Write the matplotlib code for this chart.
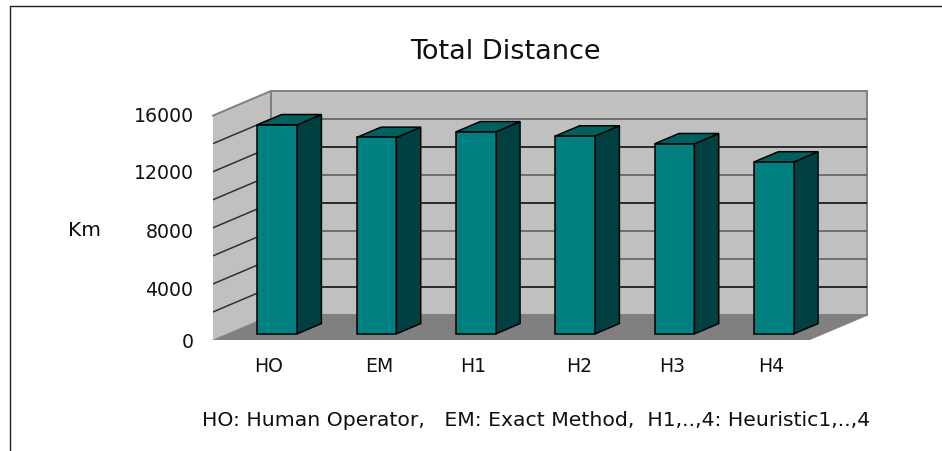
import matplotlib
matplotlib.use("Agg")
import matplotlib.pyplot as plt
from matplotlib.patches import Polygon
from matplotlib.lines import Line2D
from matplotlib.transforms import ScaledTranslation

categories = ["HO", "EM", "H1", "H2", "H3", "H4"]
distance = [14900, 14000, 14400, 14100, 13550, 12250]
y_ticks = [0, 4000, 8000, 12000, 16000]
grid_values = [2000, 4000, 6000, 8000, 10000, 12000, 14000]

plt.rcParams["font.family"] = ["DejaVu Sans"]

# 3d look: how far the back wall is shifted from the front plane
depth_x = 58 / 99.33
depth_y = 1750
bar_width = 0.4
bar_front = 0.25
bar_back = 0.67

fig = plt.figure(figsize=(9.42, 4.51), dpi=100)
ax = fig.add_axes([213 / 942, 111 / 451, 654 / 942, 249 / 451])
ax.set_xlim(0, 6 + depth_x)
ax.set_ylim(0, 16000 + depth_y)
for s in ax.spines.values():
    s.set_visible(False)

# walls and floor
ax.add_patch(Polygon([(depth_x, depth_y), (6 + depth_x, depth_y), (6 + depth_x, 16000 + depth_y), (depth_x, 16000 + depth_y)],
                     fc="#c0c0c0", ec="#808080", lw=1.4, zorder=1, clip_on=False))
ax.add_patch(Polygon([(0, 0), (depth_x, depth_y), (depth_x, 16000 + depth_y), (0, 16000)],
                     fc="#c0c0c0", ec="none", zorder=1, clip_on=False))
ax.plot([0, depth_x, depth_x], [16000, 16000 + depth_y, depth_y], color="#808080", lw=1.4, zorder=1.2, clip_on=False)
ax.add_patch(Polygon([(0, 0), (6, 0), (6 + depth_x, depth_y), (depth_x, depth_y)],
                     fc="#808080", ec="#808080", lw=0.5, zorder=2))

# grid lines, some come out darker in the scan
for g in grid_values:
    col = "#101010" if g in (2000, 8000, 12000) else "#606060"
    ax.plot([depth_x, 6 + depth_x], [g + depth_y, g + depth_y], color=col, lw=1.2, zorder=1.5)
    ax.plot([0, depth_x], [g, g + depth_y], color="#303030", lw=1.1, zorder=1.5)

# bars
for i, v in enumerate(distance):
    x0 = i + 0.5 - bar_width / 2 + bar_front * depth_x
    x1 = x0 + bar_width
    y0 = bar_front * depth_y
    d = (bar_back - bar_front)
    dx = d * depth_x
    dy = d * depth_y
    top = y0 + v
    ax.add_patch(Polygon([(x1, y0), (x1 + dx, y0 + dy), (x1 + dx, top + dy), (x1, top)],
                         fc="#004040", ec="black", lw=1.1, zorder=3))
    ax.add_patch(Polygon([(x0, top), (x1, top), (x1 + dx, top + dy), (x0 + dx, top + dy)],
                         fc="#006060", ec="black", lw=1.1, zorder=3))
    ax.add_patch(Polygon([(x0, y0), (x1, y0), (x1, top), (x0, top)],
                         fc="#008080", ec="black", lw=1.1, zorder=4))

# ticks
ax.tick_params(length=0, labelsize=13.6, colors="#101010")
ax.set_yticks(y_ticks)
ax.set_xticks([i + 0.5 for i in range(6)])
ax.set_xticklabels(categories)
ax.tick_params(axis="y", pad=14)
ax.tick_params(axis="x", pad=12)

# labels in the original are not quite where the ticks are
y_nudge = [0, -5, -3, 0, 1]
x_nudge = [6.3, 17, 11.6, 18.3, 12, 11.6]
for lab, n in zip(ax.get_yticklabels(), y_nudge):
    lab.set_transform(lab.get_transform() + ScaledTranslation(0, n / 100, fig.dpi_scale_trans))
for lab, n in zip(ax.get_xticklabels(), x_nudge):
    lab.set_transform(lab.get_transform() + ScaledTranslation(n / 100, 0, fig.dpi_scale_trans))

fig.text(505 / 942, 1 - 52 / 451, "Total Distance", ha="center", va="center", fontsize=19.5, color="#101010")
fig.text(85 / 942, 1 - 231 / 451, "Km", ha="center", va="center", fontsize=14.5, color="#101010")
fig.text(536 / 942, 1 - 420 / 451, "HO: Human Operator,   EM: Exact Method,  H1,..,4: Heuristic1,..,4",
         ha="center", va="center", fontsize=14.7, color="#101010")

# page frame
fig.add_artist(Line2D([10 / 942, 10 / 942, 942 / 942], [0, 1 - 6 / 451, 1 - 6 / 451], color="#202020", lw=1))

fig.savefig("out.png", dpi=100)
